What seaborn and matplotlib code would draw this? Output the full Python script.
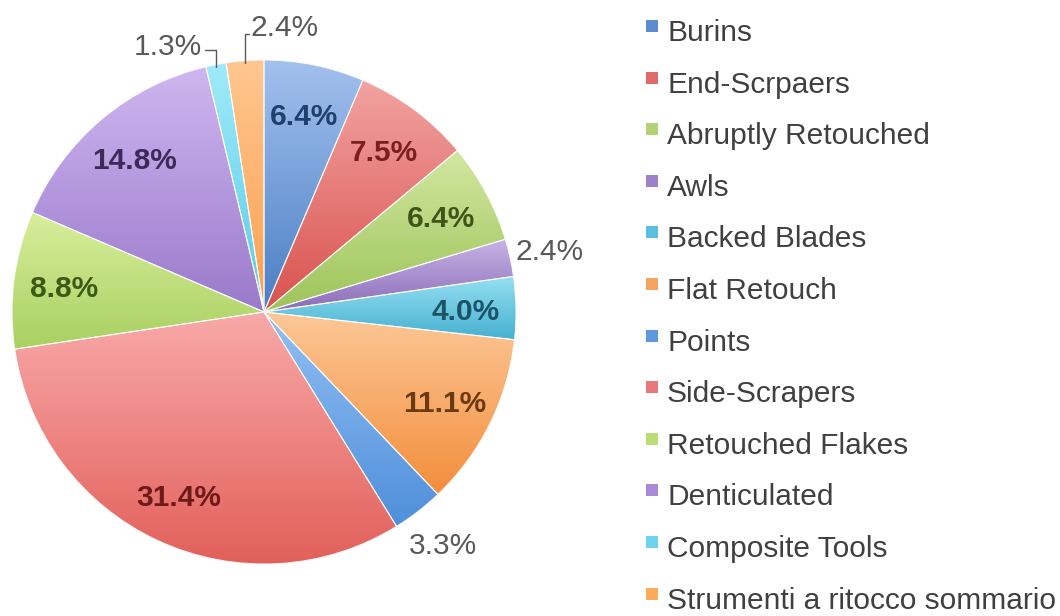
import numpy as np
import matplotlib
matplotlib.use("Agg")
import matplotlib.pyplot as plt
import seaborn as sns

# Tool categories and their share of the assemblage (%)
categories = [
    "Burins", "End-Scrpaers", "Abruptly Retouched", "Awls", "Backed Blades",
    "Flat Retouch", "Points", "Side-Scrapers", "Retouched Flakes",
    "Denticulated", "Composite Tools", "Strumenti a ritocco sommario",
]
shares = [6.4, 7.5, 6.4, 2.4, 4.0, 11.1, 3.3, 31.4, 8.8, 14.8, 1.3, 2.4]
share_labels = [f"{v:.1f}%" for v in shares]

# Gradient fill for each slice: (top / light, bottom / dark)
fills = [
    ("#a3c1ee", "#4a7ec4"), ("#f2a3a1", "#d9524e"), ("#d2e7a0", "#9dc45a"),
    ("#c8b4e6", "#8a6bb8"), ("#95e0f2", "#46b0d0"), ("#fcc898", "#f38e3c"),
    ("#93c0f4", "#4f8fda"), ("#f8a9a9", "#e2605a"), ("#d8ee9c", "#a9d061"),
    ("#cfb7f0", "#9a7acb"), ("#a0eaf9", "#5acce8"), ("#ffc78f", "#fba050"),
]
legend_colors = ["#5b8cd0", "#e06a68", "#b2d276", "#9d82c8", "#5cc0dc", "#f5a460",
                 "#5f9ae0", "#e8787a", "#bcdc78", "#a88ad8", "#6ed2ec", "#fcaa5c"]
# Text colour of the percentage inside each slice (None = placed outside)
label_colors = ["#1f3f6e", "#7a1f1c", "#3d5518", None, "#1d5366", "#6b3a10",
                None, "#6e1a18", "#3d5a14", "#3c2a5a", None, None]

sns.set_theme(style="white")
plt.rcParams["font.family"] = ["Liberation Sans", "DejaVu Sans"]

W, H = 1060, 616
fig = plt.figure(figsize=(W / 100, H / 100), dpi=100)
fig.patch.set_facecolor("white")

cx, cy, R = 264, 312, 252
ax = fig.add_axes([(cx - R) / W, (H - cy - R) / H, 2 * R / W, 2 * R / H])

wedges, _ = ax.pie(
    shares, startangle=90, counterclock=False, radius=1.0,
    wedgeprops=dict(edgecolor=(1, 1, 1, 0.8), linewidth=0.8),
)
ax.set_aspect("equal")
ax.axis("off")

# Vertical light-to-dark gradient clipped to each wedge
grad = np.linspace(0, 1, 256).reshape(-1, 1)
for w, (light, dark) in zip(wedges, fills):
    cmap = sns.blend_palette([light, dark], as_cmap=True)
    ext = w.get_path().get_extents()
    im = ax.imshow(grad, cmap=cmap, origin="upper", aspect="auto",
                   extent=(ext.x0, ext.x1, ext.y0, ext.y1), zorder=1,
                   interpolation="bilinear")
    im.set_clip_path(w)
    w.set_facecolor("none")
    w.set_zorder(3)

ax.set_xlim(-1, 1)
ax.set_ylim(-1, 1)

fs = 21.5
outside_color = "#595959"
for i, w in enumerate(wedges):
    mid = np.deg2rad((w.theta1 + w.theta2) / 2)
    ux, uy = np.cos(mid), np.sin(mid)
    if label_colors[i] is not None:
        r = 0.8
        ax.text(r * ux, r * uy, share_labels[i], ha="center", va="center_baseline",
                fontsize=fs, color=label_colors[i], fontweight="bold", zorder=5)
    elif categories[i] in ("Awls", "Points"):
        r = 1.16
        ax.text(r * ux, r * uy, share_labels[i], ha="center", va="center_baseline",
                fontsize=fs, color=outside_color, zorder=5, clip_on=False)
    elif categories[i] == "Composite Tools":
        # leader: up from the rim, then left to the label
        ex, ey = ux, uy
        ax.plot([ex, ex, ex - 0.045], [ey - 0.01, 1.04, 1.04], color=outside_color,
                lw=1.0, clip_on=False, zorder=5)
        ax.text(ex - 0.055, 1.065, share_labels[i], ha="right", va="center_baseline",
                fontsize=fs, color=outside_color, zorder=5, clip_on=False)
    else:
        # leader: straight up from the rim to the label
        ex, ey = ux, uy
        ax.plot([ex, ex, ex + 0.015], [ey - 0.01, 1.105, 1.105], color=outside_color,
                lw=1.0, clip_on=False, zorder=5)
        ax.text(ex + 0.02, 1.14, share_labels[i], ha="left", va="center_baseline",
                fontsize=fs, color=outside_color, zorder=5, clip_on=False)

# Legend drawn as a column of swatches and names
row0, step = 41, 51.6
for i, name in enumerate(categories):
    base = row0 + i * step
    fig.patches.append(plt.Rectangle((646 / W, (H - (base - 9)) / H), 12 / W, 12 / H,
                                     transform=fig.transFigure, facecolor=legend_colors[i],
                                     edgecolor="none"))
    fig.text(667 / W, (H - base) / H, name, ha="left", va="baseline",
             fontsize=fs, color="#404040")

fig.savefig("out.png", dpi=100, facecolor="white")
